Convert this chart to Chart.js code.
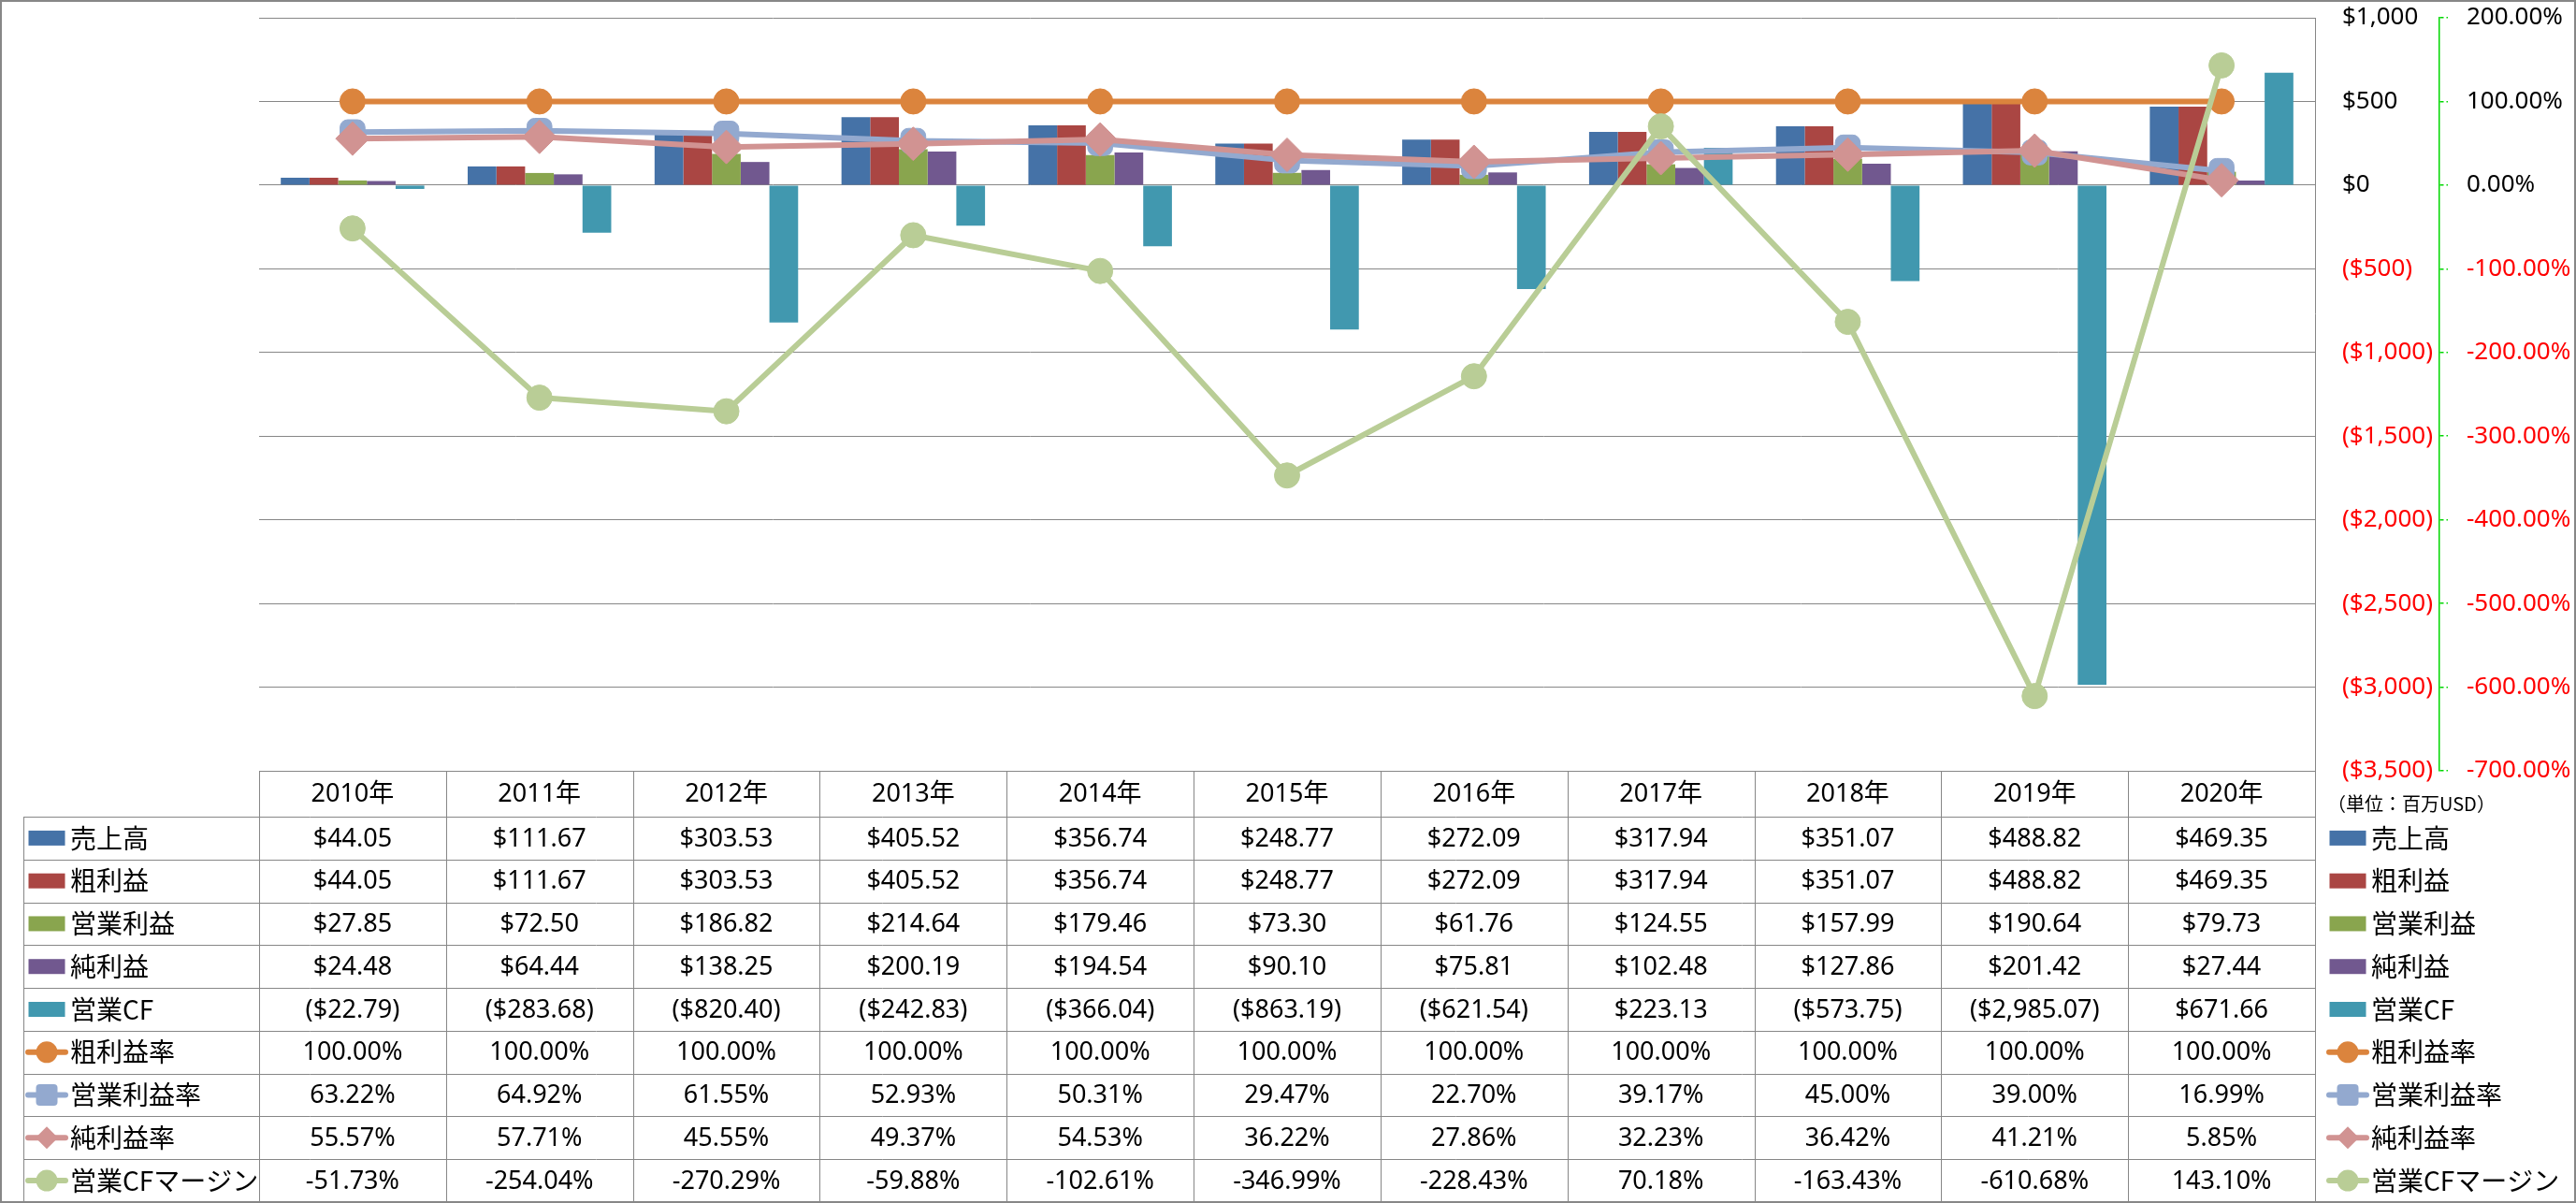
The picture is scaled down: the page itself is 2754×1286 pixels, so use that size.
<!DOCTYPE html>
<html lang="ja">
<head>
<meta charset="utf-8">
<script src="https://cdn.jsdelivr.net/npm/chart.js@4"></script>
<style>
  html, body { margin: 0; padding: 0; background: #fff; }
  #wrap { position: relative; width: 2754px; height: 1286px; }
</style>
</head>
<body>
<div id="wrap"><canvas id="chart" width="2754" height="1286"></canvas></div>
<script>
// ── Data ─────────────────────────────────────────────────────────────────────
const years = ["2010年", "2011年", "2012年", "2013年", "2014年", "2015年", "2016年", "2017年", "2018年", "2019年", "2020年"];

const sales        = [44.05, 111.67, 303.53, 405.52, 356.74, 248.77, 272.09, 317.94, 351.07, 488.82, 469.35];
const grossProfit  = [44.05, 111.67, 303.53, 405.52, 356.74, 248.77, 272.09, 317.94, 351.07, 488.82, 469.35];
const opProfit     = [27.85, 72.50, 186.82, 214.64, 179.46, 73.30, 61.76, 124.55, 157.99, 190.64, 79.73];
const netProfit    = [24.48, 64.44, 138.25, 200.19, 194.54, 90.10, 75.81, 102.48, 127.86, 201.42, 27.44];
const opCF         = [-22.79, -283.68, -820.40, -242.83, -366.04, -863.19, -621.54, 223.13, -573.75, -2985.07, 671.66];

const grossMargin  = [100, 100, 100, 100, 100, 100, 100, 100, 100, 100, 100];
const opMargin     = [63.22, 64.92, 61.55, 52.93, 50.31, 29.47, 22.70, 39.17, 45.00, 39.00, 16.99];
const netMargin    = [55.57, 57.71, 45.55, 49.37, 54.53, 36.22, 27.86, 32.23, 36.42, 41.21, 5.85];
const cfMargin     = [-51.73, -254.04, -270.29, -59.88, -102.61, -346.99, -228.43, 70.18, -163.43, -610.68, 143.10];

const usdTicks = { min: -3500, max: 1000, step: 500 };
const pctTicks = { min: -700, max: 200, step: 100 };
const unitLabel = "（単位：百万USD）";

// ── Helpers ──────────────────────────────────────────────────────────────────
const NUM_FONT = "'Noto Sans', 'Noto Sans CJK JP', sans-serif";
const JP_FONT = "'Noto Sans CJK JP', 'Noto Sans', sans-serif";
const GRID = "#878787";
const AXIS_GREEN = "#00D800";

function money(v, digits) {
  const s = "$" + Math.abs(v).toLocaleString("en-US", { minimumFractionDigits: digits, maximumFractionDigits: digits });
  return v < 0 ? `(${s})` : s;
}
const pct = (v) => v.toFixed(2) + "%";

function bar(label, data, color) {
  return { type: "bar", label, data, backgroundColor: color, borderWidth: 0, order: 10, yAxisID: "y", fmt: (v) => money(v, 2) };
}
function line(label, data, color, pointStyle, radius, order) {
  return {
    type: "line", label, data, order, yAxisID: "y2",
    borderColor: color, backgroundColor: color, borderWidth: 6,
    borderJoinStyle: "round", borderCapStyle: "round", tension: 0,
    pointStyle, pointRadius: radius, pointHoverRadius: radius,
    pointBackgroundColor: color, pointBorderColor: color, pointBorderWidth: 1,
    fmt: pct,
  };
}

function drawMarker(ctx, style, x, y, r) {
  ctx.beginPath();
  if (style === "rectRot") {
    ctx.moveTo(x, y - r); ctx.lineTo(x + r, y); ctx.lineTo(x, y + r); ctx.lineTo(x - r, y); ctx.closePath();
  } else if (style === "rectRounded") {
    ctx.roundRect(x - r, y - r, 2 * r, 2 * r, r * 0.35);
  } else {
    ctx.arc(x, y, r, 0, Math.PI * 2);
  }
  ctx.fill();
}

function drawKey(ctx, ds, cx, y) {
  if (ds.type === "bar") {
    ctx.fillStyle = ds.backgroundColor;
    ctx.fillRect(cx - 19.5, y - 8, 39, 16);
  } else {
    ctx.strokeStyle = ds.borderColor;
    ctx.lineWidth = 6;
    ctx.lineCap = "round";
    ctx.beginPath(); ctx.moveTo(cx - 20, y); ctx.lineTo(cx + 20, y); ctx.stroke();
    ctx.fillStyle = ds.borderColor;
    const r = ds.pointStyle === "rectRot" ? 12 : 11.5;
    drawMarker(ctx, ds.pointStyle, cx, y, r);
  }
}

// y axes: keep fixed widths and let the plot reach the top gridline position
function fixAxis(width) {
  return (s) => { s.width = width; s.paddingTop = 0; s.paddingBottom = 0; };
}

// data table + legend drawn under the plot
const tablePlugin = {
  id: "dataTable",
  afterDraw(chart) {
    const { ctx, chartArea: area, data } = chart;
    const n = years.length;
    const colW = (area.right - area.left) / n;
    const headTop = area.bottom, headBot = 873, rowH = (1285 - headBot) / data.datasets.length;
    const tableLeft = 25;
    ctx.save();

    // lines
    ctx.strokeStyle = GRID;
    ctx.lineWidth = 1;
    ctx.beginPath();
    const px = (v) => Math.round(v) + 0.5;
    ctx.moveTo(area.left, px(headTop)); ctx.lineTo(area.right, px(headTop));
    for (let r = 0; r < data.datasets.length; r++) {
      const y = px(headBot + r * rowH);
      ctx.moveTo(tableLeft, y); ctx.lineTo(area.right, y);
    }
    for (let i = 0; i <= n; i++) {
      const x = px(area.left + i * colW);
      ctx.moveTo(x, i === n ? area.top : headTop); ctx.lineTo(x, 1285);
    }
    ctx.moveTo(px(tableLeft), headBot); ctx.lineTo(px(tableLeft), 1285);
    ctx.stroke();

    // header
    ctx.fillStyle = "#000";
    ctx.textAlign = "center";
    ctx.textBaseline = "middle";
    ctx.font = `27px ${NUM_FONT}`;
    years.forEach((yr, i) => ctx.fillText(yr, area.left + (i + 0.5) * colW, (headTop + headBot) / 2 + 1));

    // rows
    data.datasets.forEach((ds, r) => {
      const cy = headBot + (r + 0.5) * rowH;
      ctx.fillStyle = "#000";
      ctx.textAlign = "center";
      ctx.font = `27px ${NUM_FONT}`;
      ds.data.forEach((v, i) => ctx.fillText(ds.fmt(v), area.left + (i + 0.5) * colW, cy + 1));

      // left legend cell and right legend
      drawKey(ctx, ds, 50, cy);
      drawKey(ctx, ds, 2510, cy);
      ctx.fillStyle = "#000";
      ctx.textAlign = "left";
      ctx.font = `28px ${JP_FONT}`;
      ctx.fillText(ds.label, 75, cy);
      ctx.fillText(ds.label, 2535, cy);
    });

    ctx.font = `20px ${JP_FONT}`;
    ctx.textAlign = "left";
    ctx.fillText(unitLabel, 2488, 859);

    // outer frame
    ctx.strokeStyle = GRID;
    ctx.lineWidth = 2;
    ctx.strokeRect(1, 1, chart.width - 2, chart.height - 2);
    ctx.restore();
  },
};

// ── Chart ────────────────────────────────────────────────────────────────────
new Chart(document.getElementById("chart"), {
  type: "bar",
  data: {
    labels: years,
    datasets: [
      bar("売上高", sales, "#4572A7"),
      bar("粗利益", grossProfit, "#AA4643"),
      bar("営業利益", opProfit, "#89A54E"),
      bar("純利益", netProfit, "#71588F"),
      bar("営業CF", opCF, "#4198AF"),
      line("粗利益率", grossMargin, "#DB843D", "circle", 13.5, 4),
      line("営業利益率", opMargin, "#93A9CF", "rectRounded", 15.5, 3),
      line("純利益率", netMargin, "#D19392", "rectRot", 18, 2),
      line("営業CFマージン", cfMargin, "#B9CD96", "circle", 13.5, 1),
    ],
  },
  options: {
    responsive: false,
    animation: false,
    devicePixelRatio: 1,
    categoryPercentage: 0.768,
    barPercentage: 1,
    layout: { padding: { top: 19, left: 277, bottom: 462, right: 0 } },
    plugins: { legend: { display: false }, tooltip: { enabled: false } },
    scales: {
      x: { display: false, offset: true },
      y: {
        position: "right",
        min: usdTicks.min, max: usdTicks.max,
        afterFit: fixAxis(133),
        grid: { color: GRID, lineWidth: 1, drawTicks: false },
        border: { display: false },
        ticks: {
          stepSize: usdTicks.step, padding: 29,
          font: { family: NUM_FONT, size: 26 },
          color: (c) => (c.tick.value < 0 ? "#FF0000" : "#000"),
          callback: (v) => money(v, 0),
        },
      },
      y2: {
        position: "right",
        min: pctTicks.min, max: pctTicks.max,
        afterFit: fixAxis(146),
        grid: { drawOnChartArea: false, color: AXIS_GREEN, lineWidth: 1.5, tickLength: 9, tickBorderDash: [4, 3] },
        border: { display: true, color: AXIS_GREEN, dash: [4, 3], width: 1.5 },
        ticks: {
          stepSize: pctTicks.step, padding: 20,
          font: { family: NUM_FONT, size: 26 },
          color: (c) => (c.tick.value < 0 ? "#FF0000" : "#000"),
          callback: (v) => pct(v),
        },
      },
    },
  },
  plugins: [tablePlugin],
});
</script>
</body>
</html>
